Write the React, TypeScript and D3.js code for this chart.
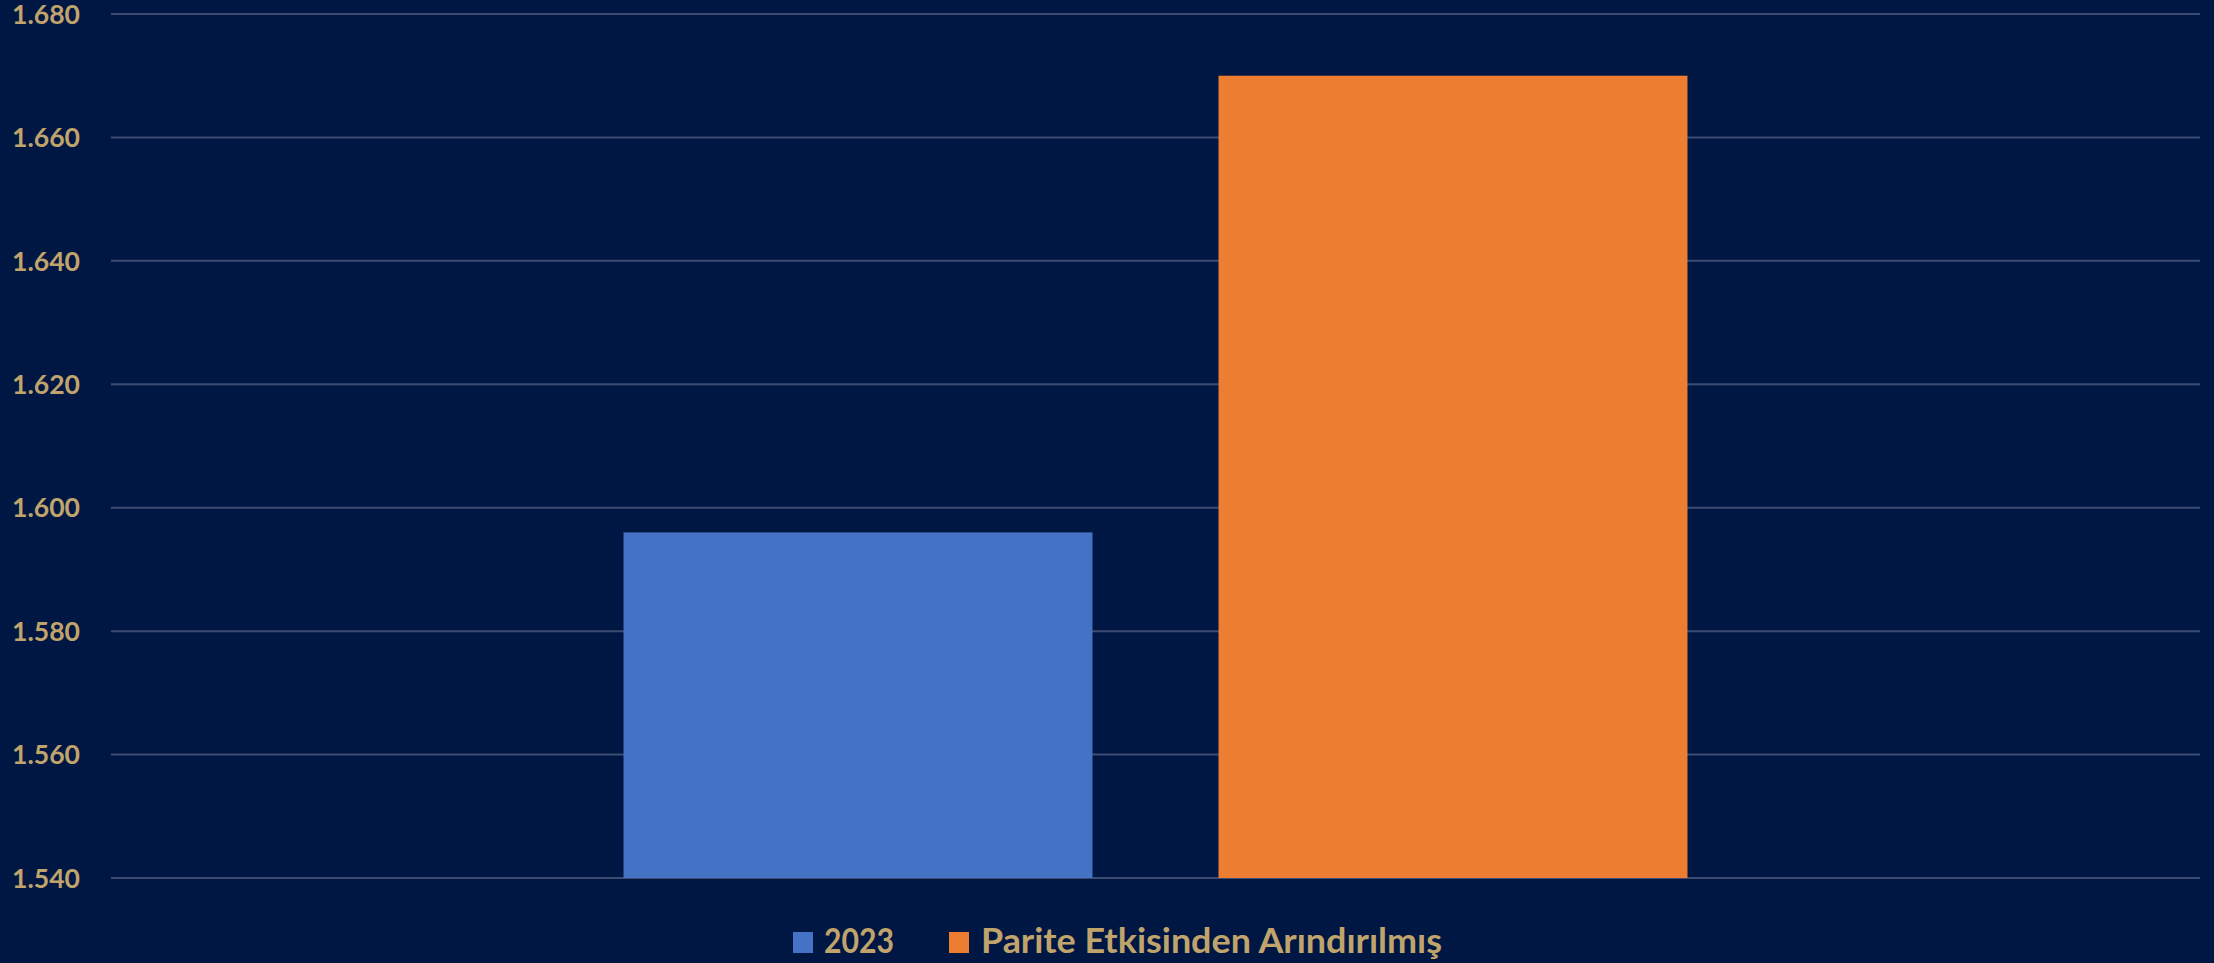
import React from "react";
import * as d3 from "d3";

const categories = ["Toplam"];
const seriesNames = ["2023", "Parite Etkisinden Arındırılmış"];
const seriesValues = [1596, 1670];
const seriesColors = ["#4472C4", "#ED7D31"];
const yTicks = [1540, 1560, 1580, 1600, 1620, 1640, 1660, 1680];

const W = 2214;
const H = 963;
const BG = "#001744";
const TEXT = "#C0A46C";
const GRID = "#3C4C72";
const FONT = "Lato, 'Open Sans', sans-serif";

export default function App() {
  const left = 111;
  const right = 2200;
  const top = 14;
  const bottom = 878;

  const y = d3.scaleLinear().domain([1540, 1680]).range([bottom, top]);
  const x0 = d3
    .scaleBand<string>()
    .domain(categories)
    .range([left, right])
    .paddingInner(0)
    .paddingOuter(0.4817);
  const x1 = d3
    .scaleBand<string>()
    .domain(seriesNames)
    .range([0, x0.bandwidth()])
    .paddingInner(0.2118)
    .paddingOuter(0);
  const fmt = (v: number) => d3.format(",.3f")(v / 1000).replace(",", "");

  const legendItems = [
    { name: seriesNames[0], color: seriesColors[0], sx: 793, tx: 824, tw: 70 },
    { name: seriesNames[1], color: seriesColors[1], sx: 949, tx: 981, tw: 461 },
  ];

  return (
    <svg
      width={W}
      height={H}
      style={{ position: "absolute", left: 0, top: 0, display: "block" }}
    >
      <rect x={0} y={0} width={W} height={H} fill={BG} />
      {yTicks.map((t) => (
        <g key={t}>
          <line
            x1={left}
            x2={right}
            y1={y(t)}
            y2={y(t)}
            stroke={GRID}
            strokeWidth={2}
          />
          <text
            x={80}
            y={y(t)}
            dy="0.36em"
            textAnchor="end"
            fill={TEXT}
            fontFamily={FONT}
            fontWeight={700}
            fontSize={27}
            textLength={68}
            lengthAdjust="spacingAndGlyphs"
          >
            {fmt(t)}
          </text>
        </g>
      ))}
      {categories.map((c) => (
        <g key={c} transform={`translate(${x0(c)},0)`}>
          {seriesNames.map((s, i) => (
            <rect
              key={s}
              x={x1(s)}
              y={y(seriesValues[i])}
              width={x1.bandwidth()}
              height={y(1540) - y(seriesValues[i])}
              fill={seriesColors[i]}
            />
          ))}
        </g>
      ))}
      {legendItems.map((l) => (
        <g key={l.name}>
          <rect x={l.sx} y={932} width={20} height={21} fill={l.color} />
          <text
            x={l.tx}
            y={953}
            fill={TEXT}
            fontFamily={FONT}
            fontWeight={700}
            fontSize={34}
            textLength={l.tw}
            lengthAdjust="spacingAndGlyphs"
          >
            {l.name}
          </text>
        </g>
      ))}
    </svg>
  );
}
